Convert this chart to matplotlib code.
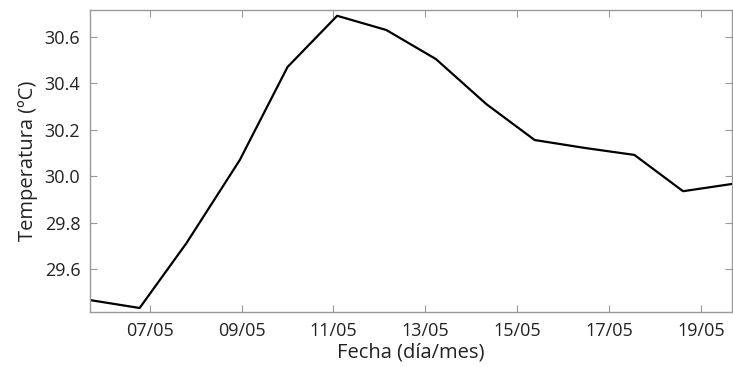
import matplotlib
matplotlib.use('Agg')
import matplotlib.pyplot as plt
from datetime import datetime, timedelta
import matplotlib.dates as mdates

# dia de mayo (fraccion de dia) y temperatura media
dias = [5.70, 6.78, 7.80, 8.96, 10.00, 11.08, 12.15, 13.23, 14.33, 15.38,
        16.47, 17.55, 18.61, 19.67]
temp = [29.468, 29.434, 29.713, 30.07, 30.47, 30.69, 30.629, 30.504, 30.31,
        30.156, 30.122, 30.092, 29.936, 29.967]
tick_dias = [7, 9, 11, 13, 15, 17, 19]

base = datetime(2017, 5, 1)
fechas = [base + timedelta(days=d - 1) for d in dias]
ticks = [base + timedelta(days=d - 1) for d in tick_dias]

plt.rcParams['font.family'] = ['Open Sans', 'DejaVu Sans']

fig = plt.figure(figsize=(7.33, 3.67), dpi=100)
ax = fig.add_axes([0.1228, 0.150, 0.8755, 0.8228])

ax.plot(fechas, temp, color='black', lw=1.6)

ax.set_xlim(fechas[0], fechas[-1])
ax.set_ylim(29.417, 30.715)
ax.set_xticks(ticks)
ax.xaxis.set_major_formatter(mdates.DateFormatter('%d/%m'))
ax.set_yticks([29.6, 29.8, 30.0, 30.2, 30.4, 30.6])
ax.set_yticklabels(['29.6', '29.8', '30.0', '30.2', '30.4', '30.6'])

ax.set_xlabel('Fecha (día/mes)', fontsize=14.5, color='#222222', labelpad=2)
ax.set_ylabel('Temperatura (ºC)', fontsize=14.5, color='#222222', labelpad=5)

for s in ax.spines.values():
    s.set_color('#999999')
    s.set_linewidth(1.0)
ax.tick_params(direction='in', length=5, width=0.8, color='#999999',
               labelsize=13, labelcolor='#222222',
               top=True, right=True, pad=7)

fig.savefig('out.png', dpi=100)
